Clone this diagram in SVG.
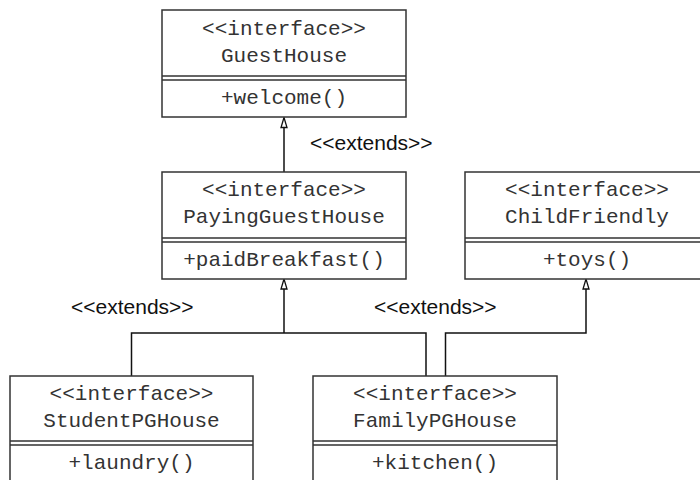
<svg xmlns="http://www.w3.org/2000/svg" width="700" height="480" viewBox="0 0 700 480">
<defs>
<style>
.box{fill:#fff;stroke:#333;stroke-width:1.5}
.div{stroke:#333;stroke-width:1.5;fill:none}
.mono{font-family:"Liberation Mono","Courier New",monospace;font-size:21px;fill:#333;text-anchor:middle}
.lbl{font-family:"Liberation Sans",Arial,sans-serif;font-size:21px;fill:#111}
.conn{stroke:#111;stroke-width:1.5;fill:none}
.head{fill:#fff;stroke:#111;stroke-width:1.3}
</style>
</defs>
<rect width="700" height="480" fill="#fff"/>
<g id="connectors">
<line class="conn" x1="284" y1="127" x2="284" y2="172"/>
<polygon class="head" points="284,117.5 281,127.5 287,127.5"/>
<polyline class="conn" points="284,289 284,333"/>
<polyline class="conn" points="131.5,376 131.5,333 426,333 426,376"/>
<polygon class="head" points="284,279 281,289 287,289"/>
<polyline class="conn" points="586,289 586,333 445.5,333 445.5,376"/>
<polygon class="head" points="586,279 583,289 589,289"/>
<text class="lbl" x="310" y="150">&lt;&lt;extends&gt;&gt;</text>
<text class="lbl" x="71" y="314">&lt;&lt;extends&gt;&gt;</text>
<text class="lbl" x="374" y="314">&lt;&lt;extends&gt;&gt;</text>
</g>
<g id="GuestHouse">
<rect class="box" x="162" y="10" width="244" height="107"/>
<path class="div" d="M162,76H406M162,80H406"/>
<text class="mono" x="284" y="35">&lt;&lt;interface&gt;&gt;</text>
<text class="mono" x="284" y="62">GuestHouse</text>
<text class="mono" x="284" y="104">+welcome()</text>
</g>
<g id="PayingGuestHouse">
<rect class="box" x="162" y="172" width="244" height="107"/>
<path class="div" d="M162,238H406M162,242H406"/>
<text class="mono" x="284" y="196">&lt;&lt;interface&gt;&gt;</text>
<text class="mono" x="284" y="223">PayingGuestHouse</text>
<text class="mono" x="284" y="266">+paidBreakfast()</text>
</g>
<g id="ChildFriendly">
<rect class="box" x="465" y="172" width="244" height="107"/>
<path class="div" d="M465,238H709M465,242H709"/>
<text class="mono" x="587" y="196">&lt;&lt;interface&gt;&gt;</text>
<text class="mono" x="587" y="223">ChildFriendly</text>
<text class="mono" x="587" y="266">+toys()</text>
</g>
<g id="StudentPGHouse">
<rect class="box" x="10" y="376" width="243" height="110"/>
<path class="div" d="M10,441H253M10,445H253"/>
<text class="mono" x="131.5" y="400">&lt;&lt;interface&gt;&gt;</text>
<text class="mono" x="131.5" y="427">StudentPGHouse</text>
<text class="mono" x="131.5" y="469">+laundry()</text>
</g>
<g id="FamilyPGHouse">
<rect class="box" x="313" y="376" width="244" height="110"/>
<path class="div" d="M313,441H557M313,445H557"/>
<text class="mono" x="435" y="400">&lt;&lt;interface&gt;&gt;</text>
<text class="mono" x="435" y="427">FamilyPGHouse</text>
<text class="mono" x="435" y="469">+kitchen()</text>
</g>
</svg>
